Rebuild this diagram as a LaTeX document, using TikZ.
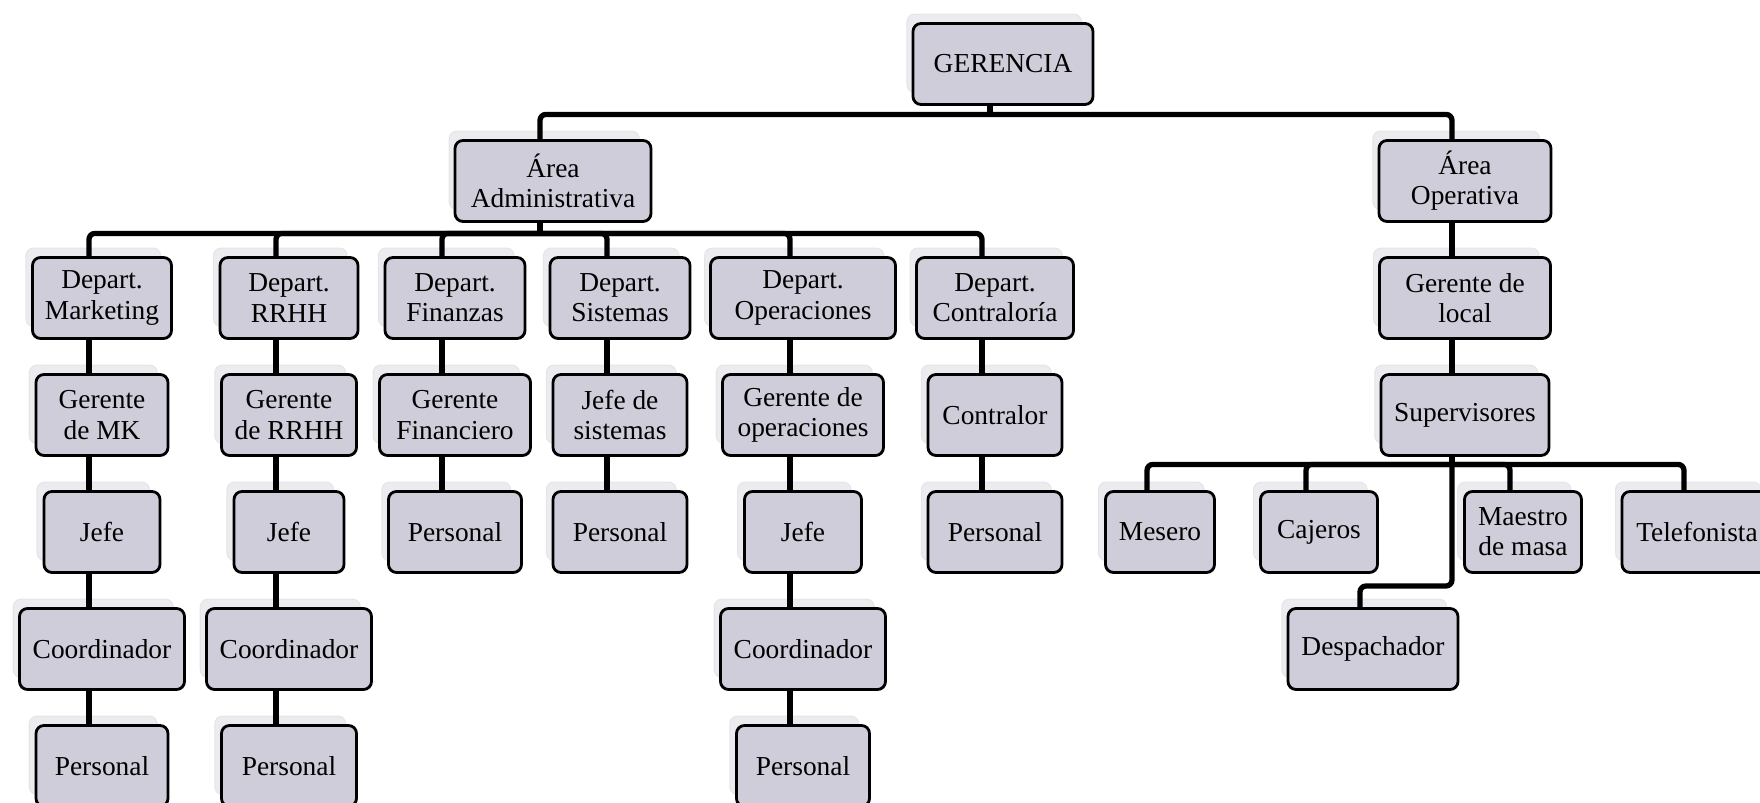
\documentclass[tikz,border=0pt]{standalone}
\usepackage{fontspec}
\setmainfont{Liberation Serif}
\usetikzlibrary{shadows}
\definecolor{boxfill}{RGB}{206,205,217}
\definecolor{shadowgray}{RGB}{236,236,240}
\newcommand{\stemoff}{1.3mm}
\tikzset{
  box/.style={draw, line width=0.8pt, rounded corners=0.8mm, fill=boxfill,
    align=center, minimum height=0.81cm, inner sep=1pt,
    font=\fontsize{7.8}{8.6}\selectfont,
    general shadow={fill=shadowgray, draw=gray!20, line width=0.3pt,
      shadow xshift=-0.9mm, shadow yshift=1.1mm, shadow scale=0.97}},
  link/.style={line width=1.5pt, rounded corners=0.6mm}
}
\begin{document}
\begin{tikzpicture}
\useasboundingbox (0,0) rectangle (17.6,8.03);
\clip (0,0) rectangle (17.6,8.03);

% top
\node[box, minimum width=1.80cm] (ger) at (10.03,7.39) {GERENCIA};
\node[box, minimum width=1.96cm] (adm) at (5.53,6.22) {Área\\Administrativa};
\node[box, minimum width=1.72cm] (ope) at (14.65,6.22) {Área\\Operativa};

% departamentos
\node[box, minimum width=1.39cm] (mkt) at (1.02,5.05) {Depart.\\Marketing};
\node[box, minimum width=1.38cm] (rrhh) at (2.89,5.05) {Depart.\\RRHH};
\node[box, minimum width=1.40cm] (fin) at (4.55,5.05) {Depart.\\Finanzas};
\node[box, minimum width=1.40cm] (sis) at (6.20,5.05) {Depart.\\Sistemas};
\node[box, minimum width=1.85cm] (ops) at (8.03,5.05) {Depart.\\Operaciones};
\node[box, minimum width=1.57cm] (con) at (9.95,5.05) {Depart.\\Contraloría};
\node[box, minimum width=1.71cm] (loc) at (14.65,5.05) {Gerente de\\local};

% gerentes
\node[box, minimum width=1.32cm] (gmk) at (1.02,3.88) {Gerente\\de MK};
\node[box, minimum width=1.35cm] (grh) at (2.89,3.88) {Gerente\\de RRHH};
\node[box, minimum width=1.51cm] (gfin) at (4.55,3.88) {Gerente\\Financiero};
\node[box, minimum width=1.34cm] (jsis) at (6.20,3.88) {Jefe de\\sistemas};
\node[box, minimum width=1.61cm] (gops) at (8.03,3.88) {Gerente de\\operaciones};
\node[box, minimum width=1.34cm] (ctr) at (9.95,3.88) {Contralor};
\node[box, minimum width=1.68cm] (sup) at (14.65,3.88) {Supervisores};

% jefes y personal
\node[box, minimum width=1.16cm] (j1) at (1.02,2.71) {Jefe};
\node[box, minimum width=1.10cm] (j2) at (2.89,2.71) {Jefe};
\node[box, minimum width=1.33cm] (pfin) at (4.55,2.71) {Personal};
\node[box, minimum width=1.34cm] (psis) at (6.20,2.71) {Personal};
\node[box, minimum width=1.17cm] (j3) at (8.03,2.71) {Jefe};
\node[box, minimum width=1.34cm] (pcon) at (9.95,2.71) {Personal};
\node[box, minimum width=1.09cm] (mes) at (11.60,2.71) {Mesero};
\node[box, minimum width=1.17cm] (caj) at (13.19,2.71) {Cajeros};
\node[box, minimum width=1.17cm] (mae) at (15.23,2.71) {Maestro\\de masa};
\node[box, minimum width=1.50cm] (tel) at (16.97,2.71) {Telefonista};

\node[box, minimum width=1.65cm] (c1) at (1.02,1.54) {Coordinador};
\node[box, minimum width=1.65cm] (c2) at (2.89,1.54) {Coordinador};
\node[box, minimum width=1.65cm] (c3) at (8.03,1.54) {Coordinador};
\node[box, minimum width=1.70cm] (desp) at (13.73,1.54) {Despachador};

\node[box, minimum width=1.32cm] (p1) at (1.02,0.37) {Personal};
\node[box, minimum width=1.35cm] (p2) at (2.89,0.37) {Personal};
\node[box, minimum width=1.33cm] (p3) at (8.03,0.37) {Personal};

% conectores
\draw[link] ([xshift=-\stemoff]ger.south) -- ++(0,-0.085) coordinate (gbar);
\draw[link] ([xshift=-\stemoff]adm.north) |- (gbar) -| ([xshift=-\stemoff]ope.north);

\draw[link] ([xshift=-\stemoff]adm.south) -- ++(0,-0.105) coordinate (abar);
\draw[link] ([xshift=-\stemoff]mkt.north) |- (abar) -| ([xshift=-\stemoff]con.north);
\foreach \n in {rrhh,fin,sis,ops} {
    \draw[link] ([xshift=-\stemoff]\n.north) |- (abar);
}

\draw[link] ([xshift=-\stemoff]sup.south) -- ++(0,-0.075) coordinate (sbar);
\draw[link] ([xshift=-\stemoff]mes.north) |- (sbar) -| ([xshift=-\stemoff]tel.north);
\foreach \n in {caj,mae} {
    \draw[link] ([xshift=-\stemoff]\n.north) |- (sbar);
}
\draw[link] (sbar) -- (sbar |- 0,2.17) -| ([xshift=-\stemoff]desp.north);

\foreach \a/\b in {mkt/gmk, gmk/j1, j1/c1, c1/p1, rrhh/grh, grh/j2, j2/c2, c2/p2,
    fin/gfin, gfin/pfin, sis/jsis, jsis/psis, ops/gops, gops/j3, j3/c3, c3/p3,
    con/ctr, ctr/pcon, ope/loc, loc/sup} {
    \draw[link] ([xshift=-\stemoff]\a.south) -- ([xshift=-\stemoff]\b.north);
}
\end{tikzpicture}
\end{document}
